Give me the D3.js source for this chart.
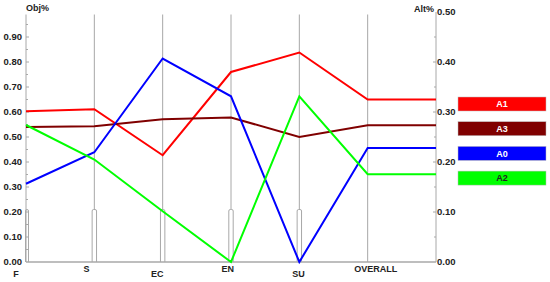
<!DOCTYPE html>
<html>
<head>
<meta charset="utf-8">
<script src="https://cdn.jsdelivr.net/npm/d3@7"></script>
<style>
  body { margin: 0; background: #fff; }
  text { font-family: "Liberation Sans", Arial, sans-serif; font-weight: bold; }
</style>
</head>
<body>
<svg width="550" height="282"></svg>
<script>
// criteria en alternatieven
const categories = ["F", "S", "EC", "EN", "SU", "OVERALL"];
const weights = [0.21, 0.21, 0.21, 0.21, 0.21]; // kleine balkjes bij de criteria
const objTicks = [0, 0.1, 0.2, 0.3, 0.4, 0.5, 0.6, 0.7, 0.8, 0.9];
const altTicks = [0, 0.1, 0.2, 0.3, 0.4, 0.5];
const seriesNames = ["A1", "A3", "A0", "A2"];
const seriesColors = ["#ff0000", "#800000", "#0000ff", "#00ff00"];
const A1 = [0.603, 0.611, 0.427, 0.76, 0.838, 0.65];
const A3 = [0.54, 0.543, 0.571, 0.578, 0.50, 0.547];
const A0 = [0.313, 0.439, 0.814, 0.663, 0.0, 0.456];
const A2 = [0.548, 0.41, 0.203, 0.0, 0.663, 0.351];
const seriesValues = [A1, A3, A0, A2];

const svg = d3.select("svg");
const mLeft = 26, mRight = 436, mTop = 12, mBottom = 262;
const grey = "#a8a8a8";

// 7 posities: 6 criteria + rechter as
const x = d3.scalePoint().domain(categories.concat(["_end"])).range([mLeft, mRight]);
const y = d3.scaleLinear().domain([0, 1]).range([mBottom, mTop]);
const y2 = d3.scaleLinear().domain([0, 0.5]).range([mBottom, mTop]);

// verticale lijnen
svg.append("g").selectAll("line")
    .data(categories.slice(1))
    .enter().append("line")
    .attr("x1", d => x(d)).attr("x2", d => x(d))
    .attr("y1", y(0.99)).attr("y2", mBottom)
    .attr("stroke", grey).attr("stroke-width", 1);

// gewichten als smalle balkjes
svg.append("g").selectAll("path")
    .data(weights)
    .enter().append("path")
    .attr("d", (d, i) => {
        const cx = x(categories[i]);
        const x0 = i === 0 ? cx - 0.5 : cx - 2.2, x1 = i === 0 ? cx + 2.5 : cx + 2.2;
        const yt = y(d), r = 1.5;
        return `M${x0},${mBottom}V${yt + r}Q${x0},${yt} ${x0 + r},${yt}H${x1 - r}Q${x1},${yt} ${x1},${yt + r}V${mBottom}`;
    })
    .attr("fill", "#fff").attr("stroke", grey).attr("stroke-width", 1);

// linker as
const axL = svg.append("g").attr("transform", `translate(${mLeft},0)`);
axL.append("line").attr("y1", y(0.99)).attr("y2", mBottom).attr("stroke", grey);
axL.selectAll(".minor").data(d3.range(0.05, 1, 0.1))
    .enter().append("line")
    .attr("x1", 0).attr("x2", 2).attr("y1", d => y(d)).attr("y2", d => y(d)).attr("stroke", grey);
axL.selectAll(".major").data(objTicks.slice(1))
    .enter().append("line")
    .attr("x1", 0).attr("x2", 3).attr("y1", d => y(d)).attr("y2", d => y(d)).attr("stroke", grey);
axL.selectAll("text").data(objTicks)
    .enter().append("text")
    .attr("x", -4).attr("y", d => y(d)).attr("dy", "0.35em")
    .attr("text-anchor", "end").attr("font-size", 9.5).attr("fill", "#222")
    .text(d3.format(".2f"));
axL.append("text").attr("x", 0).attr("y", 11).attr("font-size", 9).attr("fill", "#222").text("Obj%");

// rechter as
const axR = svg.append("g").attr("transform", `translate(${mRight},0)`);
axR.append("line").attr("y1", mTop).attr("y2", mBottom).attr("stroke", grey);
axR.selectAll(".minor").data(d3.range(0.05, 0.5, 0.1))
    .enter().append("line")
    .attr("x1", 0).attr("x2", -2).attr("y1", d => y2(d)).attr("y2", d => y2(d)).attr("stroke", grey);
axR.selectAll(".major").data(altTicks.slice(1, -1))
    .enter().append("line")
    .attr("x1", 0).attr("x2", -3).attr("y1", d => y2(d)).attr("y2", d => y2(d)).attr("stroke", grey);
axR.selectAll("text").data(altTicks)
    .enter().append("text")
    .attr("x", 1).attr("y", d => y2(d)).attr("dy", "0.35em")
    .attr("font-size", 9.5).attr("fill", "#222")
    .text(d3.format(".2f"));
axR.append("text").attr("x", -2).attr("y", 11.5).attr("text-anchor", "end")
    .attr("font-size", 9).attr("fill", "#222").text("Alt%");

// onderste lijn
svg.append("line").attr("x1", mLeft).attr("x2", mRight).attr("y1", mBottom).attr("y2", mBottom)
    .attr("stroke", grey).attr("stroke-width", 1.5);

// categorie labels, om en om hoger / lager
const labelX = d3.scalePoint().domain(categories.slice(0, 5)).range([16, 298.5]);
svg.append("g").selectAll("text")
    .data(categories)
    .enter().append("text")
    .attr("x", (d, i) => i < 5 ? labelX(d) : x(d) + 8)
    .attr("y", (d, i) => i % 2 === 0 ? 276.5 : 271.5)
    .attr("text-anchor", "middle").attr("font-size", 9).attr("fill", "#222")
    .text(d => d);

// lijnen per alternatief, doorgetrokken tot de rechter as
const line = d3.line().x(d => d[0]).y(d => y(d[1]));
svg.append("g").selectAll("path")
    .data(seriesValues)
    .enter().append("path")
    .attr("d", vals => line(vals.map((v, i) => [x(categories[i]), v]).concat([[mRight, vals[vals.length - 1]]])))
    .attr("fill", "none")
    .attr("stroke", (d, i) => seriesColors[i])
    .attr("stroke-width", 2);

// legenda
const leg = svg.append("g").selectAll("g")
    .data(seriesNames)
    .enter().append("g")
    .attr("transform", (d, i) => `translate(458,${97 + i * 24.7})`);
leg.append("rect").attr("width", 88).attr("height", 14)
    .attr("fill", (d, i) => seriesColors[i]).attr("stroke", "#bbb").attr("stroke-width", 0.5);
leg.append("text").attr("x", 44).attr("y", 7).attr("dy", "0.35em")
    .attr("text-anchor", "middle").attr("font-size", 9)
    .attr("fill", (d, i) => i === 3 ? "#222" : "#fff")
    .text(d => d);
</script>
</body>
</html>
